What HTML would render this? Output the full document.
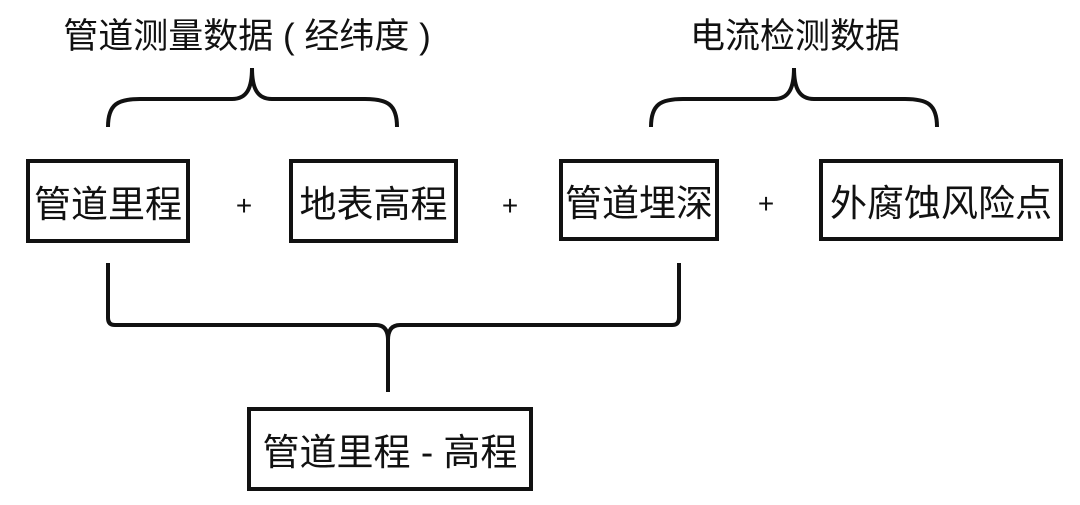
<!DOCTYPE html>
<html><head><meta charset="utf-8"><style>
html,body{margin:0;padding:0;background:#fff;}
body{width:1080px;height:505px;position:relative;overflow:hidden;font-family:"Liberation Sans","Noto Sans CJK SC",sans-serif;color:#111;}
.b{position:absolute;border:4px solid #111;box-sizing:border-box;display:flex;align-items:center;justify-content:center;font-size:37px;white-space:nowrap;}
.t{position:absolute;font-size:35px;white-space:nowrap;transform:translateX(-50%);}
.p{position:absolute;font-size:28px;transform:translate(-50%,-50%);}
</style></head><body>
<svg width="1080" height="505" style="position:absolute;left:0;top:0" fill="none" stroke="#111" stroke-width="4">
<path d="M108,127 C108,104 118,99 140,99 L232,99 C247,99 252,88 252,68 C252,88 257,99 272,99 L365,99 C387,99 397,104 397,127"/>
<path d="M651,127 C651,104 661,99 683,99 L774,99 C789,99 794,88 794,68 C794,88 799,99 814,99 L905,99 C927,99 937,104 937,127"/>
<path d="M108,263 L108,318 Q108,325 115,325 L376,325 Q388,325 388,340 L388,392 M388,340 Q388,325 400,325 L672,325 Q679,325 679,318 L679,263"/>
</svg>
<div class="t" style="left:247px;top:8px">管道测量数据 ( 经纬度 )</div>
<div class="t" style="left:795px;top:8px">电流检测数据</div>
<div class="b" style="left:26px;top:159px;width:164px;height:84px">管道里程</div>
<div class="b" style="left:289px;top:159px;width:169px;height:84px">地表高程</div>
<div class="b" style="left:559px;top:159px;width:160px;height:82px">管道埋深</div>
<div class="b" style="left:819px;top:159px;width:244px;height:82px">外腐蚀风险点</div>
<div class="b" style="left:247px;top:407px;width:286px;height:84px">管道里程 - 高程</div>
<div class="p" style="left:244px;top:206px">+</div>
<div class="p" style="left:510px;top:206px">+</div>
<div class="p" style="left:766px;top:204px">+</div>
</body></html>
